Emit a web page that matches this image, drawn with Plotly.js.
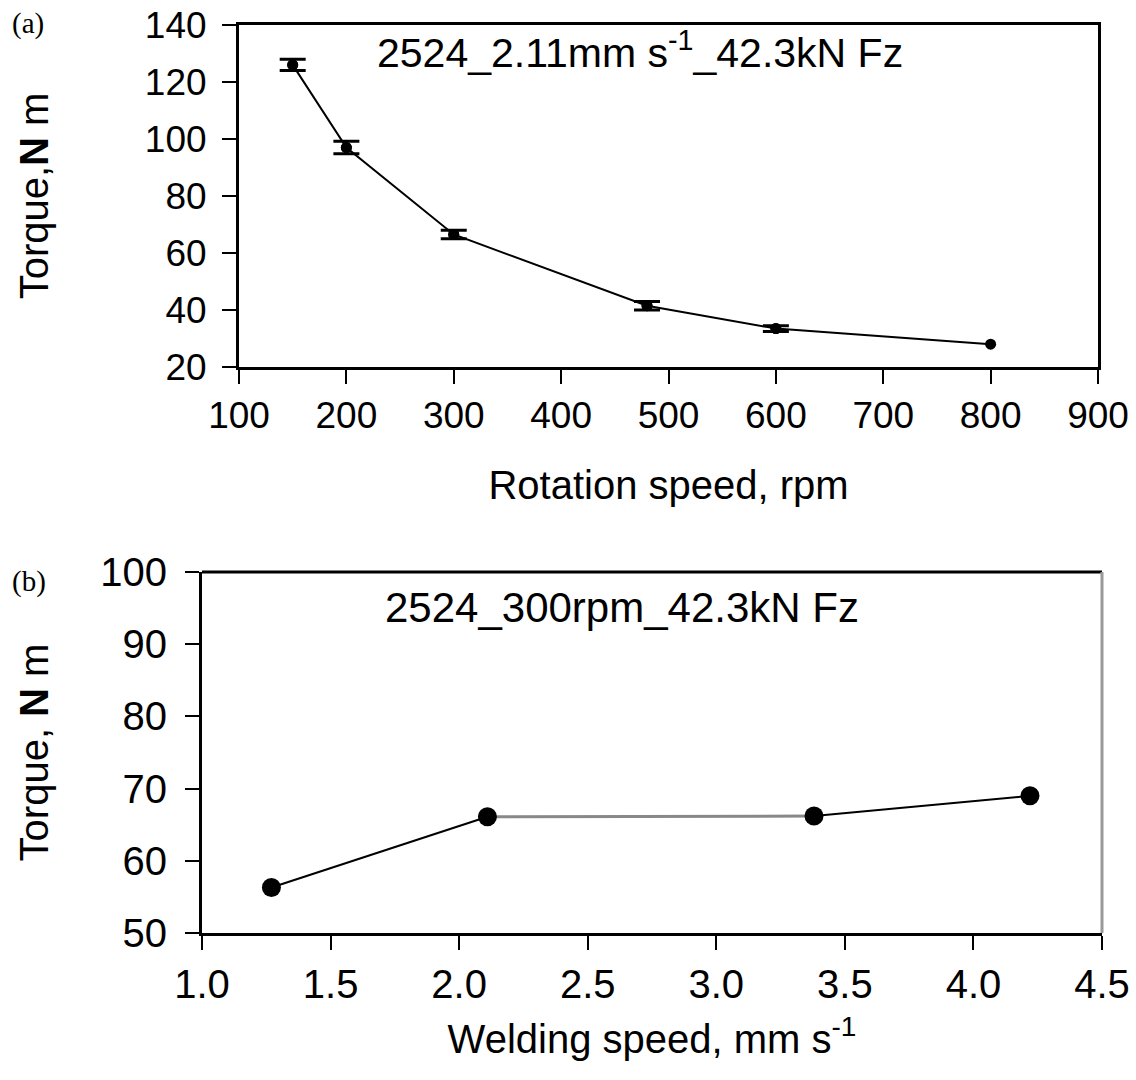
<!DOCTYPE html>
<html>
<head>
<meta charset="utf-8">
<script src="https://cdn.plot.ly/plotly-3.0.1.min.js"></script>
<style>html,body{margin:0;padding:0;background:#fff;}#chart{width:1136px;height:1080px;}</style>
</head>
<body>
<div id="chart"></div>
<script>
// Panel (a): torque vs rotation speed
const rotSpeed = [150, 200, 300, 480, 600, 800];
const torqueA = [126, 97, 66.5, 41.5, 33.5, 28];
const torqueAErr = [2, 2.2, 1.5, 1.5, 1];   // error bars for the first five points (none visible at 800 rpm)
const xTicksA = [100, 200, 300, 400, 500, 600, 700, 800, 900];
const yTicksA = [20, 40, 60, 80, 100, 120, 140];

// Panel (b): torque vs welding speed
const weldSpeed = [1.27, 2.11, 3.38, 4.22];
const torqueB = [56.3, 66.1, 66.2, 69.0];
const xTicksB = [1.0, 1.5, 2.0, 2.5, 3.0, 3.5, 4.0, 4.5];
const yTicksB = [50, 60, 70, 80, 90, 100];

const FONT = 'Liberation Sans, Arial, sans-serif';
const tickFontA = {family: FONT, size: 37, color: '#000'};
const tickFontB = {family: FONT, size: 40, color: '#000'};
const titleFont = {family: FONT, size: 40, color: '#000'};
const annFontA = {family: FONT, size: 41, color: '#000'};
const annFontB = {family: FONT, size: 42, color: '#000'};

const nErr = torqueAErr.length;
const traces = [
  {
    x: rotSpeed, y: torqueA, xaxis: 'x', yaxis: 'y', type: 'scatter', mode: 'lines+markers',
    line: {color: '#000', width: 2},
    marker: {color: '#000', size: 11},
    showlegend: false
  },
  {
    x: rotSpeed.slice(0, nErr), y: torqueA.slice(0, nErr), xaxis: 'x', yaxis: 'y', type: 'scatter', mode: 'markers',
    marker: {color: '#000', size: 11},
    error_y: {type: 'data', array: torqueAErr, visible: true, color: '#000', thickness: 3, width: 13},
    showlegend: false
  },
  {
    x: weldSpeed.slice(0, 2), y: torqueB.slice(0, 2), xaxis: 'x2', yaxis: 'y2', type: 'scatter', mode: 'lines',
    line: {color: '#000', width: 2}, showlegend: false
  },
  {
    x: weldSpeed.slice(1, 3), y: torqueB.slice(1, 3), xaxis: 'x2', yaxis: 'y2', type: 'scatter', mode: 'lines',
    line: {color: '#888', width: 3}, showlegend: false
  },
  {
    x: weldSpeed.slice(2, 4), y: torqueB.slice(2, 4), xaxis: 'x2', yaxis: 'y2', type: 'scatter', mode: 'lines',
    line: {color: '#000', width: 2}, showlegend: false
  },
  {
    x: weldSpeed, y: torqueB, xaxis: 'x2', yaxis: 'y2', type: 'scatter', mode: 'markers',
    marker: {color: '#000', size: 19}, showlegend: false
  }
];

const axBase = {
  showgrid: false, zeroline: false, showline: true, linecolor: '#000', linewidth: 3,
  ticks: 'outside', ticklen: 14, tickwidth: 2, tickcolor: '#000',
  fixedrange: true
};

const layout = {
  width: 1136, height: 1080,
  paper_bgcolor: '#fff', plot_bgcolor: '#fff',
  margin: {l: 0, r: 0, t: 0, b: 0},
  showlegend: false,
  xaxis: Object.assign({}, axBase, {
    domain: [239/1136, 1098/1136], anchor: 'y', range: [100, 900], tickfont: tickFontA,
    tickvals: xTicksA, ticktext: xTicksA.map(String), mirror: true,
    title: {text: 'Rotation speed, rpm', font: titleFont, standoff: 36}
  }),
  yaxis: Object.assign({}, axBase, {
    domain: [1 - 367/1080, 1 - 25/1080], anchor: 'x', range: [20, 140], tickfont: tickFontA,
    tickvals: yTicksA, ticktext: yTicksA.map(String), mirror: true, ticklabelstandoff: 8,
    title: {text: 'Torque,<b>N</b> m', font: titleFont, standoff: 84}
  }),
  xaxis2: Object.assign({}, axBase, {
    domain: [202/1136, 1102/1136], anchor: 'y2', range: [1.0, 4.5], tickfont: tickFontB,
    tickvals: xTicksB, ticktext: xTicksB.map(v => v.toFixed(1)), mirror: false,
    title: {text: 'Welding speed, mm s<sup>-1</sup>', font: titleFont, standoff: 20}
  }),
  yaxis2: Object.assign({}, axBase, {
    domain: [1 - 933/1080, 1 - 572/1080], anchor: 'x2', range: [50, 100], tickfont: tickFontB,
    tickvals: yTicksB, ticktext: yTicksB.map(String), mirror: false, ticklabelstandoff: 10,
    title: {text: 'Torque, <b>N</b> m', font: titleFont, standoff: 40}
  }),
  shapes: [
    {type: 'line', xref: 'x2 domain', yref: 'y2 domain', x0: 0, x1: 1, y0: 1, y1: 1, line: {color: '#000', width: 3}},
    {type: 'line', xref: 'x2 domain', yref: 'y2 domain', x0: 1, x1: 1, y0: 0, y1: 1, line: {color: '#999', width: 3}}
  ],
  annotations: [
    {text: '2524_2.11mm s<sup>-1</sup>_42.3kN Fz', xref: 'paper', yref: 'paper', x: 640/1136, y: 1 - 50/1080,
     xanchor: 'center', yanchor: 'middle', showarrow: false, font: annFontA},
    {text: '2524_300rpm_42.3kN Fz', xref: 'paper', yref: 'paper', x: 622/1136, y: 1 - 607/1080,
     xanchor: 'center', yanchor: 'middle', showarrow: false, font: annFontB},
    {text: '(a)', xref: 'paper', yref: 'paper', x: 10/1136, y: 1 - 5/1080, xanchor: 'left', yanchor: 'top',
     showarrow: false, font: {family: 'Liberation Serif, Times New Roman, serif', size: 29, color: '#000'}},
    {text: '(b)', xref: 'paper', yref: 'paper', x: 10/1136, y: 1 - 563/1080, xanchor: 'left', yanchor: 'top',
     showarrow: false, font: {family: 'Liberation Serif, Times New Roman, serif', size: 29, color: '#000'}}
  ]
};

Plotly.newPlot('chart', traces, layout, {displayModeBar: false, staticPlot: true});
</script>
</body>
</html>
